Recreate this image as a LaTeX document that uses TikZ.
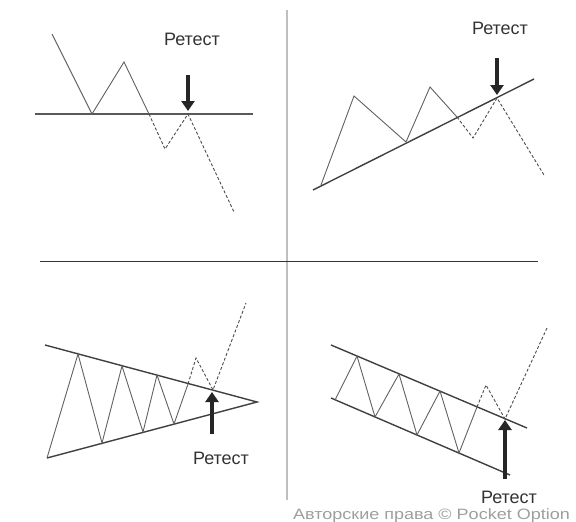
\documentclass[tikz,border=0pt]{standalone}
\usepackage{fontspec}
\setmainfont{Liberation Sans}
\usetikzlibrary{arrows.meta}

\begin{document}
\begin{tikzpicture}[
  x=1pt, y=-1pt,
  font=\fontsize{18}{20}\selectfont,
  trend/.style={line width=1.4pt, black!75},
  wave/.style={line width=0.9pt, black!62},
  future/.style={wave, black!70, dash pattern=on 3pt off 2pt},
  retest/.style={line width=3.8pt, black!85, -{Triangle[width=13pt, length=10pt]}},
  lbl/.style={inner sep=0pt, text=black!80},
  divider/.style={line width=0.9pt},
]
  \useasboundingbox (0,0) rectangle (576,522);

  % panel dividers
  \draw[divider, black!25, line width=1.6pt] (287,10) -- (287,500);
  \draw[divider, black!80] (40,261) -- (538,261);

  % breakout of a horizontal level
  \draw[trend, black!65] (35,114) -- (253,114);
  \draw[wave] (52,34) -- (92,114) -- (124,62) -- (149,114);
  \draw[future] (149,114) -- (165,149) -- (188,114) -- (234,212);

  % breakout of a rising trend line
  \draw[trend] (313,190) -- (534,79);
  \draw[wave] (321,185) -- (354,96) -- (406,142) -- (430,87) -- (457,117);
  \draw[future] (457,117) -- (473,138) -- (497,98) -- (544,175);

  % breakout of a triangle
  \draw[trend] (45,345) -- (257,402) -- (47,458);
  \draw[wave] (47,458) -- (78,354) -- (102,443) -- (122,366) -- (143,432)
    -- (157,375) -- (174,424) -- (188,384);
  \draw[future] (188,384) -- (196,358) -- (213,390) -- (246,303);

  % breakout of a falling channel
  \draw[trend] (331,345) -- (527,428);
  \draw[trend] (331,398) -- (510,475);
  \draw[wave] (335,400) -- (357,356) -- (375,417) -- (399,374) -- (417,435)
    -- (440,391) -- (459,453) -- (477,407);
  \draw[future] (477,407) -- (486,385) -- (505,419) -- (547,328);

  % retest arrows and labels
  \foreach \i/\x/\ya/\yb/\lx/\ly in {%
      1/188/75/111/192/39, 2/497/58/95/500/28,
      3/212/434/392/221/458, 4/505/479/420/509/497} {
    \coordinate (tail\i) at (\x,\ya);
    \coordinate (tip\i) at (\x,\yb);
    \draw[retest] (tail\i) -- (tip\i);
    \node[lbl] (lbl\i) at (\lx,\ly) {Ретест};
  }

  % watermark
  \node[lbl, anchor=east, text=black!38, font=\fontsize{15}{16}\selectfont]
    (mark) at (570,515.5) {\scalebox{1.2}[1]{Авторские права © Pocket Option}};
\end{tikzpicture}
\end{document}
